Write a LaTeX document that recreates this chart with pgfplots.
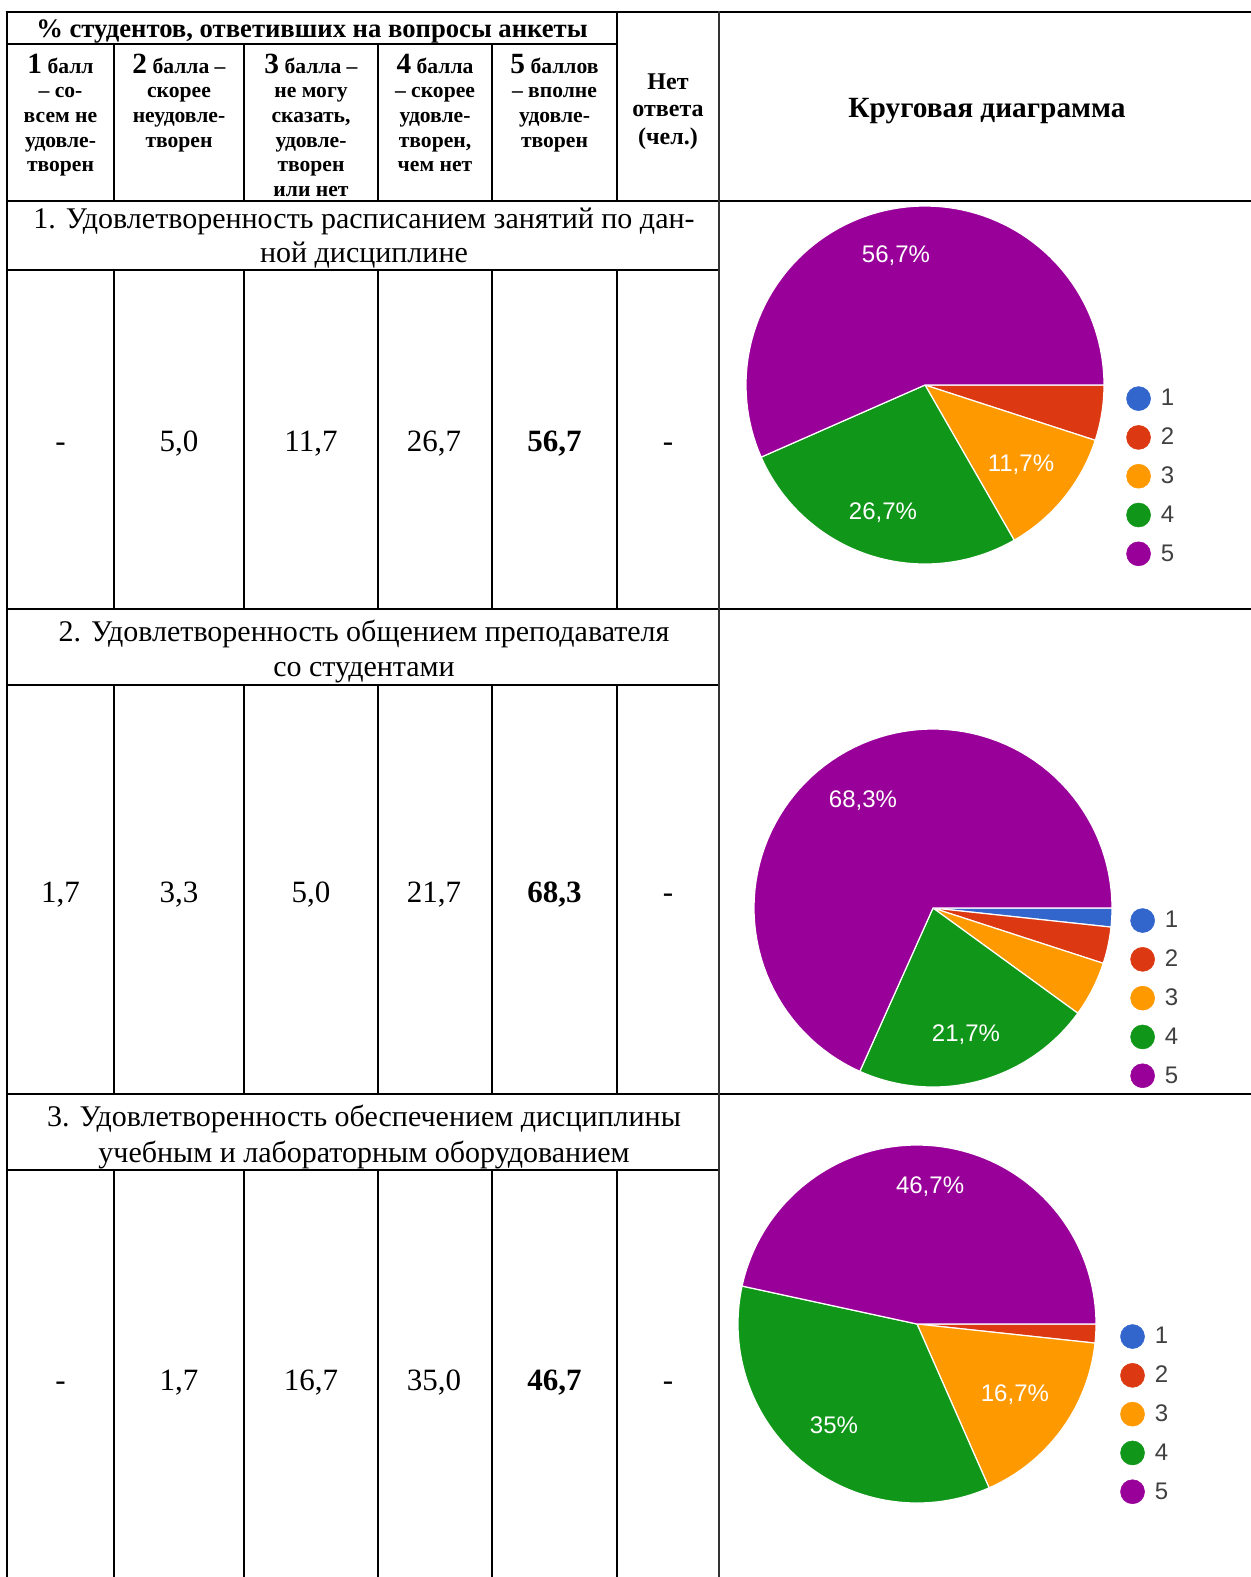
\documentclass[border=0pt]{standalone}
\usepackage{fontspec}
\setmainfont{Liberation Serif}
\newfontfamily\arialf{Liberation Sans}
\usepackage{pgfplots}
\pgfplotsset{compat=1.18}
\definecolor{gblue}{HTML}{3366CC}
\definecolor{gred}{HTML}{DC3912}
\definecolor{gorange}{HTML}{FF9900}
\definecolor{ggreen}{HTML}{109618}
\definecolor{gpurple}{HTML}{990099}
\newcommand\hfnt{\bfseries\fontsize{16.2}{18}\selectfont}
\newcommand\bigd[1]{{\fontsize{22}{22}\selectfont #1}}
\newcommand\tfnt{\fontsize{22.5}{26}\selectfont}
\newcommand\dfnt{\fontsize{23.25}{26}\selectfont}
\newcommand\lfnt{\arialf\fontsize{18}{18}\selectfont}
% slice from cumulative percent #1 to #2, clockwise from 3 o'clock
\newcommand\slice[3]{\addplot[fill=#3, draw=white, line width=0.9pt, domain=-3.6*#2:-3.6*#1, samples=90, forget plot] ({cos(x)},{sin(x)}) -- (axis cs:0,0) -- cycle;}
\pgfplotsset{pie/.style={hide axis, anchor=center, x=134.25pt, y=134.25pt,
  xmin=-1, xmax=1, ymin=-1, ymax=1, clip=false,
  legend style={draw=none, fill=none, inner sep=0pt, row sep=10.7pt, column sep=7.5pt,
    font=\lfnt, text=black!75, anchor=north west, nodes={inner sep=0pt}},
  legend cell align=left,
  legend image code/.code={\fill[##1] (0pt,0pt) circle (9pt);}}}
\newcommand\plab[3]{\node[font=\lfnt, text=white] at (axis cs:#1,#2) {#3};}
\newcommand\pleg{\addlegendimage{gblue}\addlegendentry{1}
  \addlegendimage{gred}\addlegendentry{2}
  \addlegendimage{gorange}\addlegendentry{3}
  \addlegendimage{ggreen}\addlegendentry{4}
  \addlegendimage{gpurple}\addlegendentry{5}}
\begin{document}
\begin{tikzpicture}
\begin{scope}[x=0.75pt,y=-0.75pt]
\useasboundingbox (0,0) rectangle (1251,1577);
% horizontal rules
\foreach \yy/\xe in {12/1251, 201/1251, 270/719, 609/1251, 685/719, 1094/1251, 1170/719}
  \draw[line width=2.2pt] (5.5,\yy) -- (\xe,\yy);
\draw[line width=1.8pt] (7,44) -- (617,44);
% vertical rules
\draw[line width=2.2pt] (7,11) -- (7,1577);
\draw[line width=1.6pt, black!80] (719,11) -- (719,1577);
\foreach \xx in {114,244,378,492} {
  \draw[line width=1.0pt] (\xx,44)--(\xx,201) (\xx,270)--(\xx,609) (\xx,685)--(\xx,1094) (\xx,1170)--(\xx,1577);
}
\draw[line width=1.0pt] (617,12)--(617,201) (617,270)--(617,609) (617,685)--(617,1094) (617,1170)--(617,1577);
% header
\node[anchor=mid, font=\bfseries\fontsize{20}{22}\selectfont] at (312,34) {\% студентов, ответивших на вопросы анкеты};
\node[anchor=mid, font=\bfseries\fontsize{22}{24}\selectfont] at (987,114) {Круговая диаграмма};
% column headers
\begin{scope}[every node/.style={anchor=mid, font=\hfnt}]
\node at (60.5,70) {\bigd{1} балл};
\node at (60.5,94) {– со-};
\node at (60.5,119) {всем не};
\node at (60.5,144) {удовле-};
\node at (60.5,168.5) {творен};
\node at (179,70) {\bigd{2} балла –};
\node at (179,94) {скорее};
\node at (179,119) {неудовле-};
\node at (179,144) {творен};
\node at (311,70) {\bigd{3} балла –};
\node at (311,94) {не могу};
\node at (311,119) {сказать,};
\node at (311,144) {удовле-};
\node at (311,168.5) {творен};
\node at (311,193) {или нет};
\node at (435,70) {\bigd{4} балла};
\node at (435,94) {– скорее};
\node at (435,119) {удовле-};
\node at (435,144) {творен,};
\node at (435,168.5) {чем нет};
\node at (554.5,70) {\bigd{5} баллов};
\node at (554.5,94) {– вполне};
\node at (554.5,119) {удовле-};
\node at (554.5,144) {творен};
\end{scope}
\begin{scope}[every node/.style={anchor=mid, font=\bfseries\fontsize{18}{20}\selectfont}]
\node at (668,86) {Нет};
\node at (668,113.5) {ответа};
\node at (668,141) {(чел.)};
\end{scope}
% question titles
\begin{scope}[every node/.style={anchor=mid, font=\tfnt}]
\node at (364,225.5) {1. Удовлетворенность расписанием занятий по дан-};
\node at (364,259.5) {ной дисциплине};
\node at (364,638.5) {2. Удовлетворенность общением преподавателя};
\node at (364,673.5) {со студентами};
\node at (364,1123) {3. Удовлетворенность обеспечением дисциплины};
\node at (364,1159) {учебным и лабораторным оборудованием};
\end{scope}
% data values
\begin{scope}[every node/.style={anchor=base, font=\dfnt}]
\node at (60.5,451.5) {-};
\node at (179,451.5) {5,0};
\node at (311,451.5) {11,7};
\node at (434,451.5) {26,7};
\node at (554.5,451.5) {\textbf{56,7}};
\node at (668,451.5) {-};
\node at (60.5,902.5) {1,7};
\node at (179,902.5) {3,3};
\node at (311,902.5) {5,0};
\node at (434,902.5) {21,7};
\node at (554.5,902.5) {\textbf{68,3}};
\node at (668,902.5) {-};
\node at (60.5,1390.5) {-};
\node at (179,1390.5) {1,7};
\node at (311,1390.5) {16,7};
\node at (434,1390.5) {35,0};
\node at (554.5,1390.5) {\textbf{46,7}};
\node at (668,1390.5) {-};
\end{scope}
\end{scope}
% pie 1
\begin{axis}[pie, at={(693.75pt,-288.75pt)}, legend style={at={(axis cs:1.123,-0.006)}}]
\slice{0}{5.0}{gred}
\slice{5.0}{16.7}{gorange}
\slice{16.7}{43.4}{ggreen}
\slice{43.4}{100}{gpurple}
\plab{-0.162}{0.721}{56,7\%}
\plab{0.536}{-0.447}{11,7\%}
\plab{-0.235}{-0.715}{26,7\%}
\pleg
\end{axis}
% pie 2
\begin{axis}[pie, at={(699.75pt,-681pt)}, legend style={at={(axis cs:1.101,0)}}]
\slice{0}{1.7}{gblue}
\slice{1.7}{5.0}{gred}
\slice{5.0}{10.0}{gorange}
\slice{10.0}{31.7}{ggreen}
\slice{31.7}{100}{gpurple}
\plab{-0.391}{0.598}{68,3\%}
\plab{0.184}{-0.709}{21,7\%}
\pleg
\end{axis}
% pie 3
\begin{axis}[pie, at={(687.75pt,-993pt)}, legend style={at={(axis cs:1.134,0)}}]
\slice{0}{1.7}{gred}
\slice{1.7}{18.4}{gorange}
\slice{18.4}{53.4}{ggreen}
\slice{53.4}{100}{gpurple}
\plab{0.073}{0.765}{46,7\%}
\plab{0.547}{-0.397}{16,7\%}
\plab{-0.464}{-0.564}{35\%}
\pleg
\end{axis}
\end{tikzpicture}
\end{document}
